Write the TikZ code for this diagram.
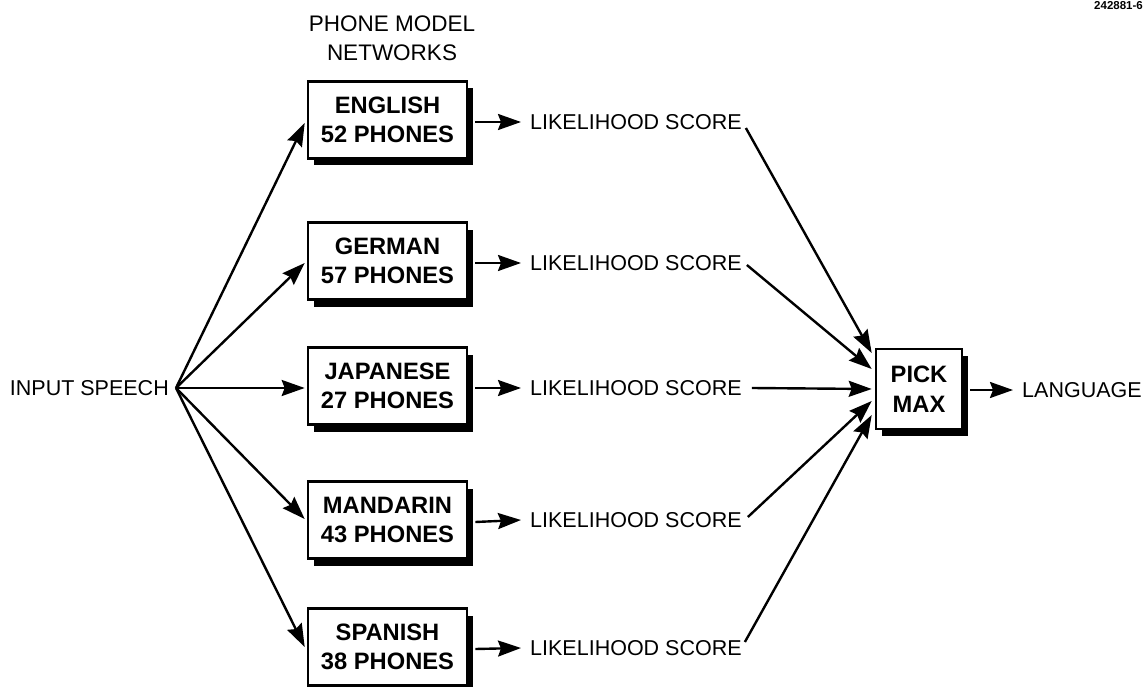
\documentclass[tikz,border=0pt]{standalone}
\usepackage{fontspec}
\setmainfont{Liberation Sans}
\usetikzlibrary{arrows.meta,shadows,calc}
\begin{document}
\begin{tikzpicture}[x=1pt,y=-1pt,
 lbl/.style={font=\fontsize{21.5}{29}\selectfont, inner sep=0pt},
 netbox/.style={draw, line width=2.6pt, fill=white, minimum width=159pt, minimum height=77pt, align=center, inner sep=0pt,
   font=\fontsize{23.7}{29.5}\selectfont\bfseries,
   general shadow={fill=black, shadow xshift=6pt, shadow yshift=-7pt}},
 arr/.style={line width=2.4pt, -{Stealth[length=23pt,width=16pt,inset=3pt]}},
 ]
\path[use as bounding box] (0,0) rectangle (1145,687);
\node[font=\fontsize{11.5}{12}\selectfont\bfseries, anchor=north east, inner sep=0pt] (id) at (1143,1) {242881-6};
\node[lbl, align=center, font=\fontsize{22.5}{29}\selectfont] (title) at (392,38.5) {PHONE MODEL\\NETWORKS};
\node[lbl, anchor=east] (in) at (169,388) {INPUT SPEECH};
\coordinate (src) at (176,388);
\node[netbox] (en) at (387.5,120) {ENGLISH\\52 PHONES};
\node[netbox] (de) at (387.5,261) {GERMAN\\57 PHONES};
\node[netbox] (ja) at (387.5,386) {JAPANESE\\27 PHONES};
\node[netbox] (zh) at (387.5,520) {MANDARIN\\43 PHONES};
\node[netbox] (es) at (387.5,647) {SPANISH\\38 PHONES};
\node[lbl, anchor=west] (s1) at (530,122) {LIKELIHOOD SCORE};
\node[lbl, anchor=west] (s2) at (530,263) {LIKELIHOOD SCORE};
\node[lbl, anchor=west] (s3) at (530,388) {LIKELIHOOD SCORE};
\node[lbl, anchor=west] (s4) at (530,520) {LIKELIHOOD SCORE};
\node[lbl, anchor=west] (s5) at (530,648) {LIKELIHOOD SCORE};
\node[netbox, minimum width=86pt, minimum height=80pt] (pm) at (919,389) {PICK\\MAX};
\node[lbl, anchor=west] (lang) at (1022,390) {LANGUAGE};
% input arrows
\draw[arr] (src) -- ($(en.west)+(-2,3)$);
\draw[arr] (src) -- ($(de.west)+(-2,2)$);
\draw[arr] (src) -- ($(ja.west)+(-2,2)$);
\draw[arr] (src) -- ($(zh.west)+(-2,-1)$);
\draw[arr] (src) -- ($(es.west)+(-2,0)$);
% box to score
\foreach \b/\s in {en/s1,de/s2,ja/s3,zh/s4,es/s5}{
  \draw[arr] ($(\b.east)+(7,2)$) -- ($(\s.west)+(-9,0)$);
}
% score to pick max
\draw[arr] ($(s1.east)+(4,6)$) -- ($(pm.west)+(-3,-36)$);
\draw[arr] ($(s2.east)+(5,2)$) -- ($(pm.west)+(-3,-20)$);
\draw[arr] ($(s3.east)+(10,0)$) -- ($(pm.west)+(-3,0)$);
\draw[arr] ($(s4.east)+(6,-3)$) -- ($(pm.west)+(-3,12)$);
\draw[arr] ($(s5.east)+(3,-6)$) -- ($(pm.west)+(-3,26)$);
\draw[arr] ($(pm.east)+(7,1)$) -- ($(lang.west)+(-9,0)$);
\end{tikzpicture}
\end{document}
